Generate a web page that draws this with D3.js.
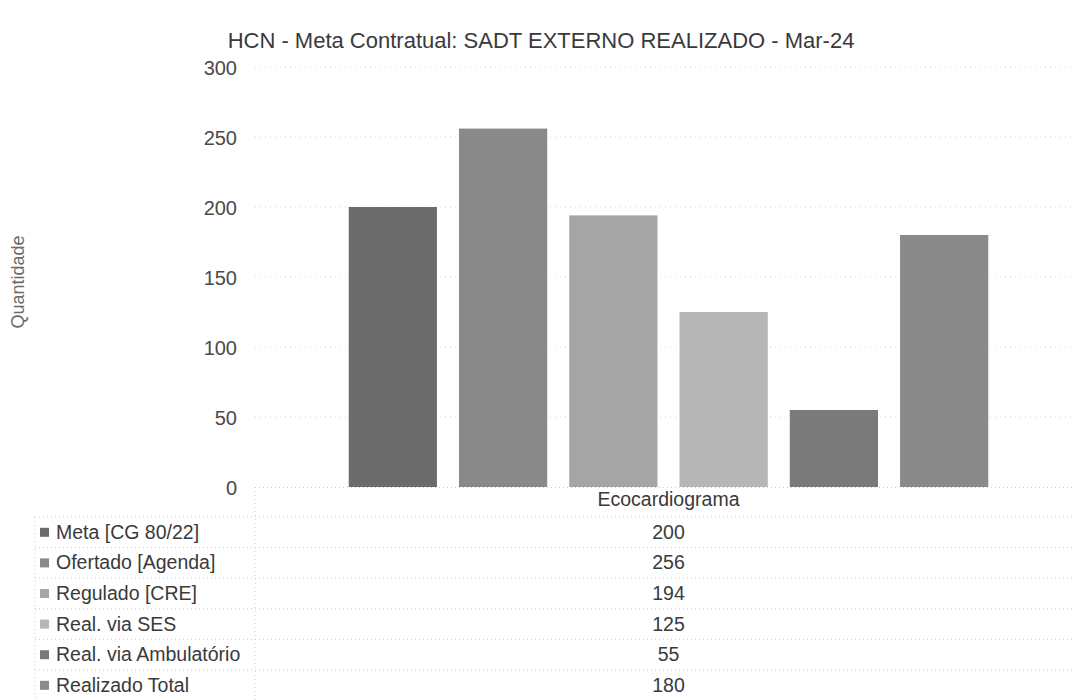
<!DOCTYPE html>
<html>
<head>
<meta charset="utf-8">
<script src="https://cdn.jsdelivr.net/npm/d3@7"></script>
<style>
  body { margin: 0; background: #fff; }
  svg { display: block; font-family: "Liberation Sans", Arial, sans-serif; }
</style>
</head>
<body>
<svg id="chart" width="1072" height="700"></svg>
<script>
const categories = ["Ecocardiograma"];
const seriesNames = ["Meta [CG 80/22]", "Ofertado [Agenda]", "Regulado [CRE]", "Real. via SES", "Real. via Ambulatório", "Realizado Total"];
const seriesValues = [[200], [256], [194], [125], [55], [180]];
const seriesColors = ["#6c6c6c", "#898989", "#a5a5a5", "#b6b6b6", "#7a7a7a", "#8a8a8a"];
const yTicks = [0, 50, 100, 150, 200, 250, 300];
const titleText = "HCN - Meta Contratual: SADT EXTERNO REALIZADO - Mar-24";
const yLabel = "Quantidade";

const svg = d3.select("#chart");
const plotLeft = 255, plotRight = 1082, plotTop = 67, plotBottom = 487;
const tableLeft = 35, rowH = 30.6, headerBottom = 517;

const y = d3.scaleLinear().domain([0, 300]).range([plotBottom, plotTop]);
const x0 = d3.scaleBand().domain(categories).range([plotLeft, plotRight]);
const x1 = d3.scaleBand().domain(seriesNames)
  .range([x0.bandwidth() * 0.1, x0.bandwidth() * 0.9])
  .paddingInner(0.2).paddingOuter(0.1);

// gridlines
svg.append("g").selectAll("line").data(yTicks.filter(d => d > 0)).join("line")
  .attr("x1", plotLeft).attr("x2", 1072)
  .attr("y1", d => y(d)).attr("y2", d => y(d))
  .attr("stroke", "#d6d6d6").attr("stroke-width", 1).attr("stroke-dasharray", "1,4");

// y axis labels
const yAxis = d3.axisLeft(y).tickValues(yTicks).tickSize(0).tickPadding(0);
const ya = svg.append("g").attr("transform", `translate(237,1)`).call(yAxis);
ya.select(".domain").remove();
ya.selectAll("text").attr("font-size", 20).attr("fill", "#4a4a4a")
  .attr("font-family", "Liberation Sans, Arial, sans-serif");

// bars
categories.forEach((c, ci) => {
  svg.append("g").selectAll("rect").data(seriesNames).join("rect")
    .attr("x", d => x0(c) + x1(d))
    .attr("width", x1.bandwidth())
    .attr("y", (d, i) => y(seriesValues[i][ci]))
    .attr("height", (d, i) => y(0) - y(seriesValues[i][ci]))
    .attr("fill", (d, i) => seriesColors[i]);
});

// title
svg.append("text").attr("x", 541).attr("y", 48).attr("text-anchor", "middle")
  .attr("font-size", 22).attr("fill", "#3a3a3a").text(titleText);

// y label
svg.append("text").attr("transform", `translate(24,282) rotate(-90)`)
  .attr("text-anchor", "middle").attr("font-size", 18).attr("fill", "#6a6a6a").text(yLabel);

// data table
const tbl = svg.append("g");
const dot = { stroke: "#cccccc", dash: "1,3" };
tbl.append("line").attr("x1", plotLeft).attr("x2", 1072).attr("y1", plotBottom + 0.5).attr("y2", plotBottom + 0.5)
  .attr("stroke", dot.stroke).attr("stroke-dasharray", dot.dash);
const rowBounds = d3.range(seriesNames.length).map(i => headerBottom + i * rowH);
tbl.selectAll("line.h").data(rowBounds).join("line").attr("class", "h")
  .attr("x1", tableLeft).attr("x2", 1072).attr("y1", d => d).attr("y2", d => d)
  .attr("stroke", dot.stroke).attr("stroke-dasharray", dot.dash);
tbl.append("line").attr("x1", plotLeft).attr("x2", plotLeft).attr("y1", plotBottom).attr("y2", 700)
  .attr("stroke", dot.stroke).attr("stroke-dasharray", dot.dash);
tbl.append("line").attr("x1", tableLeft).attr("x2", tableLeft).attr("y1", headerBottom).attr("y2", 700)
  .attr("stroke", dot.stroke).attr("stroke-dasharray", dot.dash);

// header category
categories.forEach(c => {
  tbl.append("text").attr("x", x0(c) + x0.bandwidth() / 2).attr("y", 506)
    .attr("text-anchor", "middle").attr("font-size", 19.5).attr("fill", "#3a3a3a").text(c);
});

// rows
seriesNames.forEach((s, i) => {
  const cy = headerBottom + i * rowH + rowH / 2;
  tbl.append("rect").attr("x", 40).attr("y", cy - 4.5).attr("width", 9).attr("height", 9)
    .attr("fill", seriesColors[i]);
  tbl.append("text").attr("x", 56).attr("y", cy + 6.5).attr("font-size", 19.5).attr("fill", "#3a3a3a").text(s);
  categories.forEach((c, ci) => {
    tbl.append("text").attr("x", x0(c) + x0.bandwidth() / 2).attr("y", cy + 6.5)
      .attr("text-anchor", "middle").attr("font-size", 19.5).attr("fill", "#3a3a3a")
      .text(seriesValues[i][ci]);
  });
});
</script>
</body>
</html>
